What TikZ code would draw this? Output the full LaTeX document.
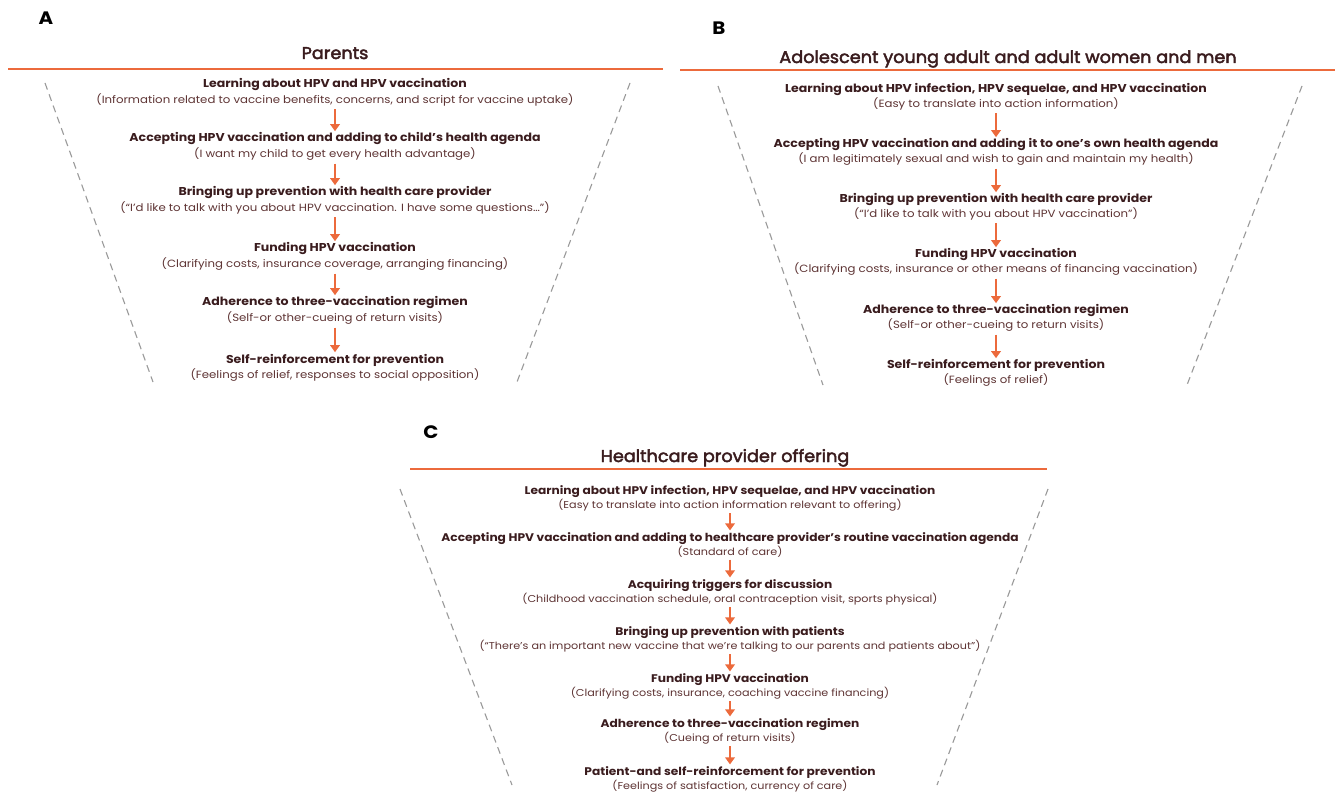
\documentclass[tikz,border=0pt]{standalone}
\usepackage{fontspec}
\setmainfont{Poppins}[FakeStretch=1.1]
\newfontfamily\subfont{Poppins}[FakeStretch=1.12]
\newfontfamily\titlefont{Poppins}[FakeBold=2.5,FakeStretch=1.04]
\usetikzlibrary{arrows.meta}
\definecolor{hpvorange}{HTML}{EC6A3C}
\definecolor{headtxt}{HTML}{3A1C1E}
\definecolor{subtxt}{HTML}{5E3434}
\definecolor{dashgray}{HTML}{9A9A9A}
\tikzset{
  headA/.style={font=\bfseries\fontsize{11.4}{13}\selectfont, text=headtxt, inner sep=0pt, anchor=base},
  subA/.style={font=\subfont\fontsize{10.5}{12}\selectfont, text=subtxt, inner sep=0pt, anchor=base},
  headC/.style={font=\bfseries\fontsize{11.1}{13}\selectfont, text=headtxt, inner sep=0pt, anchor=base},
  subC/.style={font=\subfont\fontsize{10}{12}\selectfont, text=subtxt, inner sep=0pt, anchor=base},
  paneltitle/.style={font=\titlefont\fontsize{17}{20}\selectfont, text=headtxt, inner sep=0pt, anchor=base},
  panelletter/.style={font=\bfseries\fontsize{18}{20}\selectfont, text=black, inner sep=0pt, anchor=base},
  rule/.style={draw=hpvorange, line width=1.6pt},
  funnel/.style={draw=dashgray, line width=1.1pt, dash pattern=on 7pt off 5pt},
  flow/.style={draw=hpvorange, line width=2pt, -{Triangle[width=9.5pt,length=7pt]}, shorten >=1.5pt, shorten <=2.5pt}
}
\begin{document}
\begin{tikzpicture}[x=1pt,y=-1pt]
\useasboundingbox[fill=white] (0,0) rectangle (1342,794);

% ---------------- Panel A ----------------
\node[panelletter] (LA) at (46,25) {A};
\node[paneltitle] (TA) at (335,59) {Parents};
\coordinate (RAl) at (8,69); \coordinate (RAr) at (663,69);
\draw[rule] (RAl) -- (RAr);
\coordinate (FAl1) at (45,83); \coordinate (FAl2) at (153,382);
\coordinate (FAr1) at (630,83); \coordinate (FAr2) at (517,382);
\draw[funnel] (FAl1) -- (FAl2);
\draw[funnel] (FAr1) -- (FAr2);

\newcommand\stA[4]{%
  \node[headA] (#1h) at (335,#2) {#3};
  \node[subA] (#1s) at (335,#2+16) {#4};}
\stA{a1}{88}{Learning about HPV and HPV vaccination}{(Information related to vaccine benefits, concerns, and script for vaccine uptake)}
\stA{a2}{142}{Accepting HPV vaccination and adding to child’s health agenda}{(I want my child to get every health advantage)}
\stA{a3}{196}{Bringing up prevention with health care provider}{(“I’d like to talk with you about HPV vaccination. I have some questions…”)}
\stA{a4}{252}{Funding HPV vaccination}{(Clarifying costs, insurance coverage, arranging financing)}
\stA{a5}{306}{Adherence to three-vaccination regimen}{(Self-or other-cueing of return visits)}
\stA{a6}{363}{Self-reinforcement for prevention}{(Feelings of relief, responses to social opposition)}
\foreach \p/\q in {a1/a2,a2/a3,a3/a4,a4/a5,a5/a6}
  \draw[flow] (\p s.south) -- (\q h.north);

% ---------------- Panel B ----------------
\node[panelletter] (LB) at (719,35) {B};
\node[paneltitle] (TB) at (1008,63) {Adolescent young adult and adult women and men};
\coordinate (RBl) at (680,70); \coordinate (RBr) at (1335,70);
\draw[rule] (RBl) -- (RBr);
\coordinate (FBl1) at (718,86); \coordinate (FBl2) at (823,385);
\coordinate (FBr1) at (1302,86); \coordinate (FBr2) at (1187,385);
\draw[funnel] (FBl1) -- (FBl2);
\draw[funnel] (FBr1) -- (FBr2);

\newcommand\stB[4]{%
  \node[headA] (#1h) at (996,#2) {#3};
  \node[subA] (#1s) at (996,#2+15) {#4};}
\stB{b1}{93}{Learning about HPV infection, HPV sequelae, and HPV vaccination}{(Easy to translate into action information)}
\stB{b2}{148}{Accepting HPV vaccination and adding it to one’s own health agenda}{(I am legitimately sexual and wish to gain and maintain my health)}
\stB{b3}{203}{Bringing up prevention with health care provider}{(“I’d like to talk with you about HPV vaccination”)}
\stB{b4}{258}{Funding HPV vaccination}{(Clarifying costs, insurance or other means of financing vaccination)}
\stB{b5}{314}{Adherence to three-vaccination regimen}{(Self-or other-cueing to return visits)}
\stB{b6}{369}{Self-reinforcement for prevention}{(Feelings of relief)}
\foreach \p/\q in {b1/b2,b2/b3,b3/b4,b4/b5,b5/b6}
  \draw[flow] (\p s.south) -- (\q h.north);

% ---------------- Panel C ----------------
\node[panelletter] (LC) at (431,438) {C};
\node[paneltitle] (TC) at (725,462) {Healthcare provider offering};
\coordinate (RCl) at (410,469); \coordinate (RCr) at (1047,469);
\draw[rule] (RCl) -- (RCr);
\coordinate (FCl1) at (400,489); \coordinate (FCl2) at (512,785);
\coordinate (FCr1) at (1048,489); \coordinate (FCr2) at (937,785);
\draw[funnel] (FCl1) -- (FCl2);
\draw[funnel] (FCr1) -- (FCr2);

\newcommand\stC[4]{%
  \node[headC] (#1h) at (730,#2) {#3};
  \node[subC] (#1s) at (730,#2+14) {#4};}
\stC{c1}{494}{Learning about HPV infection, HPV sequelae, and HPV vaccination}{(Easy to translate into action information relevant to offering)}
\stC{c2}{541}{Accepting HPV vaccination and adding to healthcare provider’s routine vaccination agenda}{(Standard of care)}
\stC{c3}{588}{Acquiring triggers for discussion}{(Childhood vaccination schedule, oral contraception visit, sports physical)}
\stC{c4}{635}{Bringing up prevention with patients}{(“There’s an important new vaccine that we’re talking to our parents and patients about”)}
\stC{c5}{682}{Funding HPV vaccination}{(Clarifying costs, insurance, coaching vaccine financing)}
\stC{c6}{727}{Adherence to three-vaccination regimen}{(Cueing of return visits)}
\stC{c7}{775}{Patient-and self-reinforcement for prevention}{(Feelings of satisfaction, currency of care)}
\foreach \p/\q in {c1/c2,c2/c3,c3/c4,c4/c5,c5/c6,c6/c7}
  \draw[flow] (\p s.south) -- (\q h.north);
\end{tikzpicture}
\end{document}
